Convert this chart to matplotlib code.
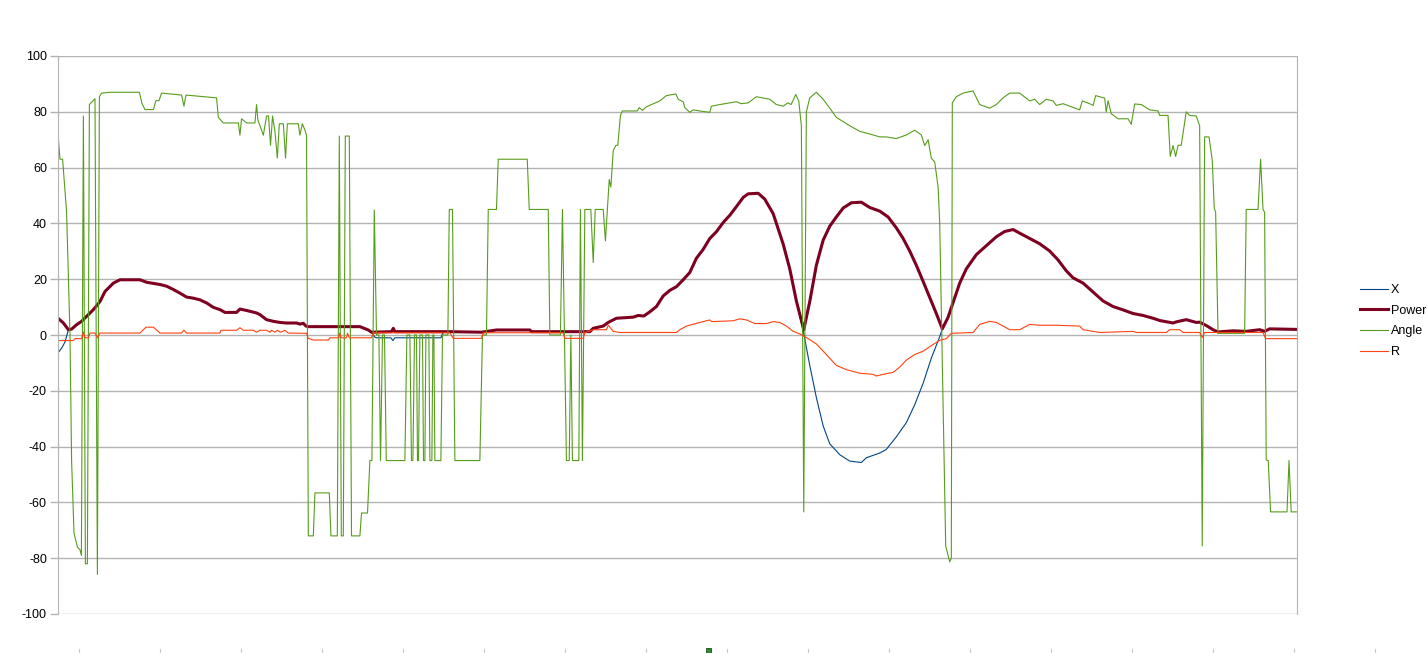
import numpy as np
import matplotlib
matplotlib.use('Agg')
import matplotlib.pyplot as plt
from matplotlib.lines import Line2D
from matplotlib.patches import Rectangle

plt.rcParams['font.family'] = ['Liberation Sans', 'DejaVu Sans']
plt.rcParams['font.size'] = 9
plt.rcParams['axes.unicode_minus'] = False

# sample index / value pairs
angle_idx = [0, 1, 2.3, 4.3, 6, 6.8, 8, 9.7, 11, 11.7, 12.7, 13.7, 14.7, 15.7, 18.5, 19.7, 20.7, 21.8, 26, 40.7,
             42, 43.5, 47.7, 49, 50.5, 51.8, 61.8, 63, 64, 79.3, 80.2, 82.7, 90.2, 91, 91.8, 94.3, 98.5, 99.3, 100,
             102.7, 104.3, 105.3, 106.3, 107.3, 108.5, 109.7, 110.7, 112.7, 113.8, 114.7, 120.2, 121, 122.2, 123.5,
             124.3, 125.2, 127.7, 128.5, 135.7, 136.5, 139.7, 140.7, 141.7, 142.7, 143.7, 145.7, 146.8, 151, 151.8,
             154.8, 156, 157, 158.2, 159.3, 160.5, 161.3, 162.3, 163.3, 164.2, 173.5, 174.5, 176, 176.8, 177.5,
             178.3, 179.3, 179.8, 180.3, 181, 182.3, 182.8, 183.5, 184, 185.5, 186, 187, 187.5, 188, 188.5, 191.5,
             192.3, 195, 195.7, 197.3, 198.5, 211, 212.3, 214.3, 215.2, 219.3, 220.2, 234.7, 235.7, 245.2, 246,
             251.3, 252.3, 254.3, 255.7, 256.5, 257.3, 260.5, 261.3, 262.3, 263.5, 266.5, 267.7, 268.7, 272.7,
             273.8, 275.7, 276.5, 277.7, 279, 280, 281.3, 282.3, 289.7, 290.7, 292.3, 294.3, 301, 304.3, 309,
             310.2, 312.7, 313.5, 316, 317.7, 321, 326, 326.8, 331, 339.3, 341.7, 345.2, 349.3, 356, 359.3, 362.7,
             365, 366.7, 369, 370.5, 371.8, 373, 374.3, 376, 379.3, 382.7, 386, 389.3, 396, 401, 407.7, 411,
             414.3, 419.3, 424.3, 428.5, 431.8, 433.5, 435.2, 436.8, 438.5, 440.2, 441, 444, 446, 446.8, 447.3,
             449.3, 452.7, 457.7, 461, 466, 469.3, 472.7, 476, 481, 486, 488.5, 491, 494.3, 497.7, 499.3, 502.7,
             511, 512.3, 516, 517.7, 519, 523.5, 524.3, 525.2, 526.8, 530.2, 535.2, 536.8, 538.5, 541.8, 546,
             550.2, 551, 555.2, 556.3, 557.7, 559, 560.2, 561.8, 564.3, 566, 569.3, 571, 572.3, 573.5, 575.7,
             577.3, 578.3, 579, 580.2, 593.5, 594.3, 600.2, 601.5, 602.7, 603.5, 604.3, 605.3, 606.5, 614.7,
             615.7, 616.8, 619.7]
angle_val = [72, 63, 63, 44, 0, -45, -71, -76, -77, -79, 78.5, -82, -82, 82.6, 84.7, -85.8, 85.4, 86.7, 87, 87,
             83, 80.8, 80.8, 84, 84, 86.7, 86, 82, 86, 85, 78, 76, 76, 71.6, 77.5, 76, 76, 82.6, 77,
             71.6, 78.5, 78.5, 68, 78.5, 73, 63.4, 75.7, 75.7, 63.4, 75.7, 75.7, 71.6, 75.7, 73.5,
             71.6, -72, -72, -56.6, -56.6, -72, -72, 71.3, -72, -72, 71.3, 71.3, -72, -72, -63.8,
             -63.8, -45, -45, 44.8, 0, 0, -45, 0, 0, -45, -45, 0, 0, -45, -45,
             0, 0, -45, -45, 0, 0, -45, -45, 0, 0, -45, -45, 0, 0, -45, -45,
             0, 0, 45, 45, -45, -45, 0, 0, 45, 45, 63, 63, 45, 45, 0,
             0, 45, -45, -45, 0, -45, -45, 45, -45, 45, 45, 26, 45, 45,
             33.7, 55.7, 53, 66, 68, 68, 78.7, 80.3, 80.3, 81.5, 80.5, 81.8, 83.9, 85.8, 86.4,
             84.5, 83.6, 81.5, 79.8, 80.7, 80.3, 79.8, 82, 82.6, 83.6, 82.9, 83.2, 85.4, 84.5, 82.6, 82,
             83.2, 82.6, 86.2, 83.9, 75, -63.4, 80, 85, 87, 84.5, 81.3, 78, 75, 73, 71.7, 71,
             71, 70.4, 71.7, 73.4, 71.7, 67.9, 70, 63.4, 62, 53, 40, -75.6, -81.3, -80, 83.2,
             85.4, 86.7, 87.5, 82.6, 81.3, 82.6, 85, 86.7, 86.7, 83.9, 84.5, 82.6, 84.5, 83.9, 82.3, 82.9,
             80.7, 83.9, 82.9, 82.3, 85.8, 84.9, 80, 84, 79.3, 77.5, 77.5, 75.5, 82.8, 82.6, 80.7,
             80.3, 78.7, 78.7, 64, 67.9, 64, 68, 68, 80, 78.7, 78.5, 75, -75.6, 71, 71,
             62.7, 45.5, 44, 0.6, 0.6, 45, 45, 63, 45, 44, -44.8, -45, -63.4, -63.4,
             -45, -63.4, -63.4]

power_idx = [0, 2.7, 5.2, 6.8, 9.3, 11.8, 14.3, 17.7, 21, 23.5, 26, 27.7, 31, 41, 44.3, 47.7, 51, 54.3, 57.7, 61,
             64.3, 67.7, 71, 74.3, 77.7, 81, 83.5, 89.3, 91, 94.3, 99.3, 101, 104.3, 107.7, 111, 114.3, 119.3,
             121, 122.7, 124, 125.2, 151, 155.2, 156.8, 166.8, 167.7, 168.5, 196, 211.8, 219.3, 236, 236.8, 266,
             267.7, 272.7, 275.2, 279.3, 287.7, 290.2, 293, 296, 299.3, 302.7, 306, 309.3, 312.7, 316, 319.3,
             322.7, 326, 329.3, 332.7, 336, 339.3, 342.7, 345.2, 350.2, 353.5, 357.7, 362.7, 366, 369.3, 373,
             376, 379.3, 382.7, 386, 389.3, 392.7, 396.8, 401.8, 406, 411, 415.2, 419.3, 422.7, 426, 429.3,
             432.7, 436, 439.3, 442.3, 445.2, 448.5, 451, 454.3, 459.3, 464.3, 469.3, 473.5, 477.7, 481, 486,
             491, 496, 500.2, 504.3, 507.7, 512.7, 517.7, 522.7, 527.7, 532.7, 537.7, 542.7, 547.7, 551, 557.7,
             559.3, 564.3, 569.3, 571, 574.3, 577.7, 580.2, 587.7, 594.3, 601, 603.5, 606, 619.7]
power_val = [6, 4.3, 1.9, 2.1, 3.7, 4.9, 6.7, 9.1, 12, 15.6, 17.4, 18.6, 19.8, 19.8, 18.9, 18.5, 18.1, 17.5, 16.3, 15,
             13.6, 13.2, 12.6, 11.5, 9.9, 9.1, 8.1, 8.1, 9.3, 8.8, 7.9, 7.3, 5.5, 4.9, 4.5, 4.3, 4.3,
             3.9, 4.2, 3.2, 3, 3, 1.8, 1, 1.2, 2.4, 1.2, 1.2, 1, 1.8, 1.8, 1.2, 1.2,
             2.4, 3.2, 4.5, 6, 6.4, 7, 6.8, 8.3, 10.2, 14, 16, 17.3, 19.8, 22.4, 27.5,
             30.7, 34.6, 37, 40.3, 42.9, 46, 49.3, 50.6, 50.8, 48.7, 43.5, 32.6, 23.7, 12.2, 1.9,
             12, 25, 34, 39, 42.3, 45.5, 47.4, 47.6, 45.7, 44.4, 42.3, 38.4, 34.6, 30.1, 25,
             19.2, 13.4, 7.7, 2.2, 6.4, 13.4, 18.6, 23.7, 28.8, 32, 35.2, 37.1, 37.8, 36.5, 34.6,
             32.7, 30.1, 26.9, 23, 20.5, 18.6, 15.4, 12.2, 10.2, 9, 7.7, 7, 6, 5.2, 4.3,
             4.7, 5.5, 4.5, 4.6, 3.4, 1.9, 1.1, 1.5, 1.3, 1.9, 1.3, 2.2, 2.0]

# X runs under Power wherever it is positive; these are the stretches where it shows
x_start_idx = [0, 2, 3.5, 5.2]
x_start_val = [-6.4, -4.5, -2.5, 1.9]
x_mid_idx = [157.3, 158.5, 159.5, 166.5, 167.5, 168.5, 191.5, 192.5]
x_mid_val = [0.5, -0.8, -1, -1, -2, -1, -1, 0.8]
x_lobe_idx = [373, 376, 379.3, 382.7, 386, 391, 396, 401.8, 404.3, 411, 414.3, 419.3, 424.3, 428.5, 432.7,
              436.8, 441]
x_lobe_val = [0.5, -10.9, -22.4, -32.6, -39, -42.9, -45.2, -45.7, -44, -42.3, -41, -36.5, -31.4, -25, -17.3,
              -8.3, -0.6]

r_idx = [0, 7.7, 8.5, 11.8, 12.7, 13.5, 15.2, 16, 18.5, 19.7, 21, 41, 44, 47.7, 51, 61.8, 63, 64.3, 81, 81.5,
         89.3, 91, 92.7, 97.7, 99.3, 101, 104.3, 106, 106.8, 108.5, 109.7, 111.3, 113.5, 115.2, 124.3, 125.2,
         127.7, 135.2, 136, 140.5, 140.7, 141.8, 144.3, 144.8, 145.7, 156.8, 157.7, 196, 197.7, 211.8, 212.7,
         252.7, 253.5, 262.7, 263.5, 267.7, 274.3, 275.2, 277.7, 281, 309.3, 311, 314.3, 321, 326, 327, 337.7,
         341, 344.3, 348.5, 354.3, 357.7, 361, 364.3, 367.7, 371, 374.3, 379.3, 384.3, 389.3, 394.3, 401,
         407.7, 409.3, 412.7, 417.7, 421, 424.3, 428.5, 432.7, 436.8, 441, 444.3, 446.8, 457.7, 461, 466,
         469.3, 472.7, 476, 481, 486, 491, 499.3, 511, 512.7, 517.7, 521, 537.7, 539.3, 554.3, 556, 561,
         562.7, 571, 572.3, 573.5, 602.7, 604, 619.7]
r_val = [-2, -2, -1.3, -1.3, 1, -1, -1, 0.7, 0.7, -1, 0.7, 0.7, 2.8, 2.8, 0.7, 0.7, 1.7, 0.7, 0.7, 1.7,
         1.7, 2.6, 1.7, 1.7, 1, 1.7, 1.7, 1, 1.7, 1, 1.7, 1, 1.7, 0.7, 0.6, -1.2,
         -1.8, -1.8, -1, -1, 0.6, -1, -1, 0.6, -1, -1, 0.8, 0.8, -1.2, -1.2, 0.8,
         0.8, -1.2, -1.2, 0.8, 1.9, 1.9, 3.5, 1.3, 0.9, 0.9, 1.9, 3.2, 4.5, 5.4, 4.8, 5.1,
         5.8, 5.4, 4.1, 4.1, 4.8, 4.5, 3.2, 1.3, 0.4, -0.9, -3.2, -7, -10.9, -12.4, -13.7,
         -14.1, -14.7, -14.1, -13.4, -11.5, -9, -7, -5.8, -3.8, -1.9, -1.3, 0.6, 0.9, 3.8, 4.9,
         4.5, 3.2, 1.9, 1.9, 3.8, 3.5, 3.5, 3.2, 1.9, 1.3, 0.9, 1.3, 0.9, 0.9, 1.9, 1.9,
         0.9, 0.9, -0.9, 0.9, 0.9, -1.3, -1.3]

# join the visible X stretches with the Power points it sits under
p_idx = np.array(power_idx)
p_val = np.array(power_val)
seg1 = (p_idx > 5.2) & (p_idx <= 155.2)
seg2 = (p_idx >= 196) & (p_idx <= 369.3)
seg3 = p_idx >= 442.3
x_idx = np.concatenate([x_start_idx, p_idx[seg1], x_mid_idx, p_idx[seg2], x_lobe_idx, p_idx[seg3]])
x_val = np.concatenate([x_start_val, p_val[seg1], x_mid_val, p_val[seg2], x_lobe_val, p_val[seg3]])

W, H = 1427, 653
fig = plt.figure(figsize=(W / 100, H / 100), dpi=100)
ax = fig.add_axes([58 / W, 1 - 614 / H, 1239 / W, 558 / H])

grey = '#b3b3b3'
ax.plot(x_idx, x_val, color='#004586', lw=0.8, label='X')
ax.plot(power_idx, power_val, color='#7e0021', lw=2.2, label='Power')
ax.plot(angle_idx, angle_val, color='#579d1c', lw=0.8, label='Angle')
ax.plot(r_idx, r_val, color='#ff420e', lw=0.8, label='R')

ax.set_xlim(0, 619.7)
ax.set_ylim(-100, 100)
ax.set_yticks(np.arange(-100, 101, 20))
ax.set_xticks([])
ax.yaxis.grid(True, color=grey, lw=1)
ax.set_axisbelow(True)
for s in ['left', 'right']:
    ax.spines[s].set_color(grey)
for s in ['top', 'bottom']:
    ax.spines[s].set_visible(False)
ax.tick_params(axis='y', length=6, color=grey, width=1, pad=2, labelsize=9)

fig.legend(loc='center left', bbox_to_anchor=(1360 / W, 1 - 321 / H), frameon=False,
           handlelength=2.2, handletextpad=0.25, labelspacing=0.7, fontsize=9,
           borderpad=0, borderaxespad=0)

# column marks of the sheet along the bottom edge
col_edges = [79 + 81.0 * k for k in range(17)]
for cx in col_edges:
    fig.add_artist(Line2D([cx / W, cx / W], [0, 4 / H], color='#c8c8c8', lw=0.8))
fig.add_artist(Rectangle((706 / W, 0), 5 / W, 5 / H, facecolor='#2e8b2e', edgecolor='#1a4d1a', lw=0.6))

fig.savefig('out.png', dpi=100)
